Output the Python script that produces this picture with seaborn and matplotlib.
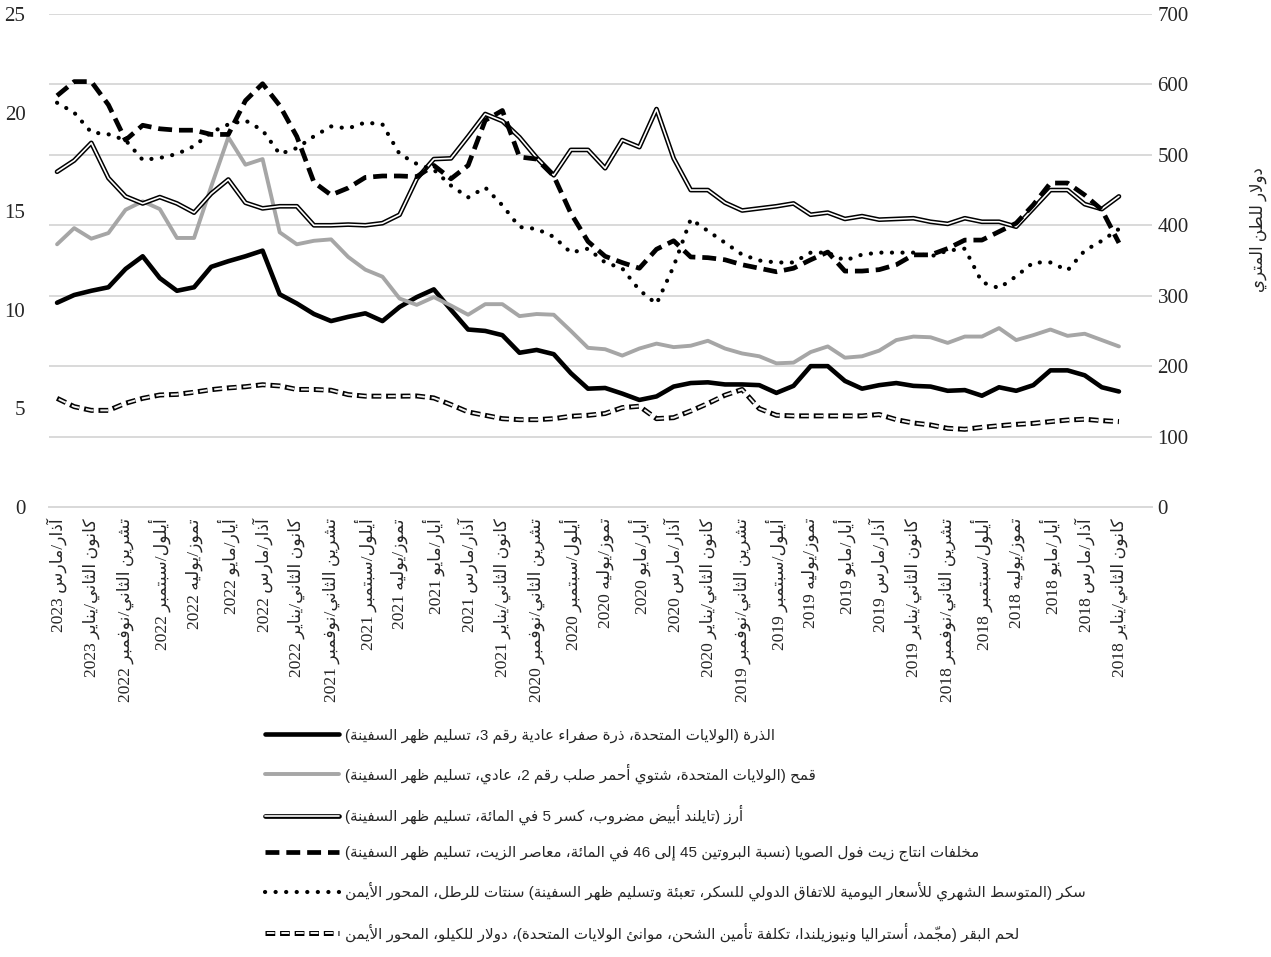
import matplotlib
matplotlib.use("Agg")
import matplotlib.pyplot as plt
import seaborn as sns
from matplotlib.lines import Line2D

# months run from March 2023 (left) back to January 2018 (right)
tick_labels = [
    "آذار/مارس 2023", "كانون الثاني/يناير 2023",
    "تشرين الثاني/نوفمبر 2022", "أيلول/سبتمبر 2022", "تموز/يوليه 2022", "أيار/مايو 2022", "آذار/مارس 2022", "كانون الثاني/يناير 2022",
    "تشرين الثاني/نوفمبر 2021", "أيلول/سبتمبر 2021", "تموز/يوليه 2021", "أيار/مايو 2021", "آذار/مارس 2021", "كانون الثاني/يناير 2021",
    "تشرين الثاني/نوفمبر 2020", "أيلول/سبتمبر 2020", "تموز/يوليه 2020", "أيار/مايو 2020", "آذار/مارس 2020", "كانون الثاني/يناير 2020",
    "تشرين الثاني/نوفمبر 2019", "أيلول/سبتمبر 2019", "تموز/يوليه 2019", "أيار/مايو 2019", "آذار/مارس 2019", "كانون الثاني/يناير 2019",
    "تشرين الثاني/نوفمبر 2018", "أيلول/سبتمبر 2018", "تموز/يوليه 2018", "أيار/مايو 2018", "آذار/مارس 2018", "كانون الثاني/يناير 2018",
]

# dollars per metric ton (right axis)
corn = [290, 301, 307, 312, 338, 356, 325, 307, 312, 341, 349, 356, 364, 302, 289, 274, 264, 270, 275, 264, 284, 298,
        309, 280, 252, 250, 244, 219, 223, 217, 190, 168, 169, 161, 152, 157, 171, 176, 177, 174, 174, 173, 162, 172, 200, 200,
        179, 168, 173, 176, 172, 171, 165, 166, 158, 170, 165, 173, 194, 194, 187, 170, 164]
wheat = [373, 396, 381, 389, 422, 434, 423, 382, 382, 455, 525, 486, 494, 390, 373, 378, 380, 355, 337, 327, 296, 287,
         298, 286, 273, 288, 288, 271, 274, 273, 250, 226, 224, 215, 225, 232, 227, 229, 236, 225, 218, 214, 204, 205, 220, 228,
         212, 214, 222, 237, 242, 241, 233, 242, 242, 254, 237, 244, 252, 243, 246, 237, 228]
rice = [476, 492, 517, 467, 441, 431, 440, 431, 418, 445, 465, 432, 424, 427, 427, 400, 400, 401, 400, 403, 415, 466,
        494, 495, 526, 558, 548, 525, 496, 471, 507, 507, 481, 521, 511, 565, 495, 450, 450, 432, 421, 424, 427, 431, 415, 418,
        409, 413, 408, 409, 410, 405, 402, 410, 405, 405, 398, 424, 450, 450, 430, 423, 441]
soymeal = [584, 604, 604, 571, 521, 542, 537, 535, 535, 529, 529, 577, 601, 570, 526, 461, 443, 453, 468, 470, 470, 469,
           485, 466, 485, 549, 563, 497, 494, 470, 417, 377, 356, 347, 339, 366, 378, 355, 354, 351, 344, 339, 334, 339, 351, 362,
           335, 335, 337, 344, 358, 358, 367, 379, 379, 391, 403, 429, 460, 460, 443, 422, 375]

# sugar in cents per pound, beef in dollars per kilo (left axis)
sugar = [20.5, 20.0, 19.0, 18.9, 18.6, 17.6, 17.7, 17.9, 18.3, 19.0, 19.4, 19.6, 19.1, 17.9, 18.2, 18.8, 19.3, 19.2, 19.5, 19.4, 17.9, 17.4,
         17.1, 16.3, 15.7, 16.2, 15.3, 14.2, 14.1, 13.7, 12.9, 13.1, 12.4, 12.1, 11.0, 10.3, 12.2, 14.6, 14.0, 13.4, 12.8, 12.5, 12.4, 12.4, 12.9, 12.9,
         12.5, 12.8, 12.9, 12.9, 12.9, 12.7, 13.0, 13.1, 11.4, 11.1, 11.7, 12.4, 12.4, 12.0, 13.0, 13.5, 14.1]
beef = [5.51, 5.09, 4.9, 4.9, 5.26, 5.51, 5.68, 5.71, 5.82, 5.95, 6.04, 6.1, 6.2, 6.14, 5.96, 5.96, 5.92, 5.7, 5.62, 5.62, 5.62, 5.63,
        5.53, 5.19, 4.82, 4.65, 4.48, 4.43, 4.43, 4.48, 4.6, 4.65, 4.74, 5.04, 5.11, 4.48, 4.53, 4.87, 5.25, 5.67, 5.96, 4.99, 4.65, 4.62, 4.62, 4.62,
        4.62, 4.62, 4.69, 4.43, 4.26, 4.16, 3.99, 3.94, 4.04, 4.12, 4.19, 4.24, 4.33, 4.41, 4.45, 4.38, 4.33]

legend_labels = [
    "الذرة (الولايات المتحدة، ذرة صفراء عادية رقم 3، تسليم ظهر السفينة)",
    "قمح (الولايات المتحدة، شتوي أحمر صلب رقم 2، عادي، تسليم ظهر السفينة)",
    "أرز (تايلند أبيض مضروب، كسر 5 في المائة، تسليم ظهر السفينة)",
    "مخلفات انتاج زيت فول الصويا (نسبة البروتين 45 إلى 46 في المائة، معاصر الزيت، تسليم ظهر السفينة)",
    "سكر (المتوسط الشهري للأسعار اليومية للاتفاق الدولي للسكر، تعبئة وتسليم ظهر السفينة) سنتات للرطل، المحور الأيمن",
    "لحم البقر (مجمّد، أستراليا ونيوزيلندا، تكلفة تأمين الشحن، موانئ الولايات المتحدة)، دولار للكيلو، المحور الأيمن",
]
right_label = "دولار للطن المتري"


# matplotlib has no arabic shaping / bidi, so do it by hand with presentation forms
DUAL = {'ئ': 0xFE89, 'ب': 0xFE8F, 'ت': 0xFE95, 'ث': 0xFE99, 'ج': 0xFE9D, 'ح': 0xFEA1, 'خ': 0xFEA5,
        'س': 0xFEB1, 'ش': 0xFEB5, 'ص': 0xFEB9, 'ض': 0xFEBD, 'ط': 0xFEC1, 'ظ': 0xFEC5, 'ع': 0xFEC9,
        'غ': 0xFECD, 'ف': 0xFED1, 'ق': 0xFED5, 'ك': 0xFED9, 'ل': 0xFEDD, 'م': 0xFEE1, 'ن': 0xFEE5,
        'ه': 0xFEE9, 'ي': 0xFEF1}
RIGHT = {'آ': 0xFE81, 'أ': 0xFE83, 'ؤ': 0xFE85, 'إ': 0xFE87, 'ا': 0xFE8D, 'ة': 0xFE93, 'د': 0xFEA9,
         'ذ': 0xFEAB, 'ر': 0xFEAD, 'ز': 0xFEAF, 'و': 0xFEED, 'ى': 0xFEEF}
LAMALEF = {'آ': 0xFEF5, 'أ': 0xFEF7, 'إ': 0xFEF9, 'ا': 0xFEFB}
MARKS = set(chr(c) for c in range(0x064B, 0x0653))


def _near(s, i, step):
    j = i + step
    while 0 <= j < len(s) and s[j] in MARKS:
        j += step
    return (s[j], j) if 0 <= j < len(s) else ('', j)


def ar(s):
    units = []
    i = 0
    while i < len(s):
        c = s[i]
        if c in MARKS:
            units[-1] += c
            i += 1
            continue
        p, _ = _near(s, i, -1)
        n, j = _near(s, i, 1)
        link_prev = p in DUAL and (c in DUAL or c in RIGHT)
        if c == 'ل' and n in LAMALEF:
            units.append(chr(LAMALEF[n] + link_prev))
            i = j + 1
            continue
        if c in DUAL:
            link_next = n in DUAL or n in RIGHT
            units.append(chr(DUAL[c] + [[0, 2], [1, 3]][link_prev][link_next]))
        elif c in RIGHT:
            units.append(chr(RIGHT[c] + link_prev))
        else:
            units.append(c)
        i += 1
    groups = []
    for u in units:
        if u.isdigit() and groups and groups[-1].isdigit():
            groups[-1] += u
        else:
            groups.append(u)
    mirror = {'(': ')', ')': '('}
    return ''.join(mirror.get(g, g) for g in reversed(groups))


sns.set_style("white")
plt.rcParams['font.family'] = ['Liberation Serif', 'DejaVu Sans']
plt.rcParams['lines.scale_dashes'] = False

pos = list(range(len(corn)))

fig = plt.figure(figsize=(12.71, 9.57), dpi=100)
ax = fig.add_axes([49 / 1271, 1 - 507 / 957, 1103 / 1271, 493 / 957])
ax2 = ax.twinx()
# main axes holds the $/t series and the grid on the right scale
ax.yaxis.tick_right()
ax2.yaxis.tick_left()

grid_c = "#d9d9d9"
ax.set_ylim(0, 700)
ax.set_yticks(range(0, 701, 100))
ax.grid(axis='y', color=grid_c, lw=1.4)
ax.set_axisbelow(True)
ax2.set_ylim(0, 25)
ax2.set_yticks(range(0, 26, 5))

# corn, wheat, rice, soymeal on the right scale
sns.lineplot(x=pos, y=corn, ax=ax, color="black", lw=3.3, solid_joinstyle='round')
sns.lineplot(x=pos, y=wheat, ax=ax, color="#a6a6a6", lw=2.8)
sns.lineplot(x=pos, y=rice, ax=ax, color="black", lw=3.4)
sns.lineplot(x=pos, y=rice, ax=ax, color="white", lw=1.2)
sns.lineplot(x=pos, y=soymeal, ax=ax, color="black", lw=3.4, linestyle=(0, (10, 5)))

# sugar and beef on the left scale
sns.lineplot(x=pos, y=sugar, ax=ax2, color="black", lw=3.0, linestyle=(0, (0.1, 7.5)), dash_capstyle='round')
sns.lineplot(x=pos, y=beef, ax=ax2, color="black", lw=3.6, linestyle=(0, (7, 3.5)))
sns.lineplot(x=pos, y=beef, ax=ax2, color="#f2f2f2", lw=1.4, linestyle=(9.2, (5.6, 4.9)))

ax.set_xlim(-0.47, 63.93)
ax.set_xticks(pos)
lab = [ar(t) for t in tick_labels]
full = []
for k in pos:
    full.append(lab[k // 2] if k % 2 == 0 else "")
ax.set_xticklabels(full, rotation=90, fontsize=12.5)
ax.tick_params(axis='x', length=5, width=1, color="#bfbfbf", pad=3)
ax.tick_params(axis='y', length=0, labelsize=15, pad=4)
ax2.tick_params(axis='y', length=0, labelsize=15, pad=17)
ax.set_xlabel("")

for a in (ax, ax2):
    for s in ("top", "left", "right"):
        a.spines[s].set_visible(False)
    a.spines["bottom"].set_color(grid_c)
    a.spines["bottom"].set_linewidth(1.4)

ax.set_ylabel(ar(right_label), fontsize=12, rotation=90, va='center', ha='center')
ax.yaxis.set_label_position('right')
ax.yaxis.set_label_coords(1.089, 0.562)

handles = [
    Line2D([], [], color="black", lw=3.3),
    Line2D([], [], color="#a6a6a6", lw=2.8),
    (Line2D([], [], color="black", lw=3.4), Line2D([], [], color="white", lw=1.2)),
    Line2D([], [], color="black", lw=3.4, linestyle=(0, (10, 5))),
    Line2D([], [], color="black", lw=3.0, linestyle=(0, (0.1, 7.5)), dash_capstyle='round'),
    (Line2D([], [], color="black", lw=3.6, linestyle=(0, (7, 3.5))),
     Line2D([], [], color="#f2f2f2", lw=1.4, linestyle=(9.2, (5.6, 4.9)))),
]
fig.legend(handles, [ar(t) for t in legend_labels], loc='upper left',
           bbox_to_anchor=(265 / 1271, 1 - 728 / 957), frameon=False,
           prop={'family': ['Liberation Sans', 'DejaVu Sans'], 'size': 10.9},
           handlelength=4.9, handletextpad=0.4, labelspacing=1.38,
           borderpad=0, borderaxespad=0)

fig.savefig("out.png", dpi=100)
